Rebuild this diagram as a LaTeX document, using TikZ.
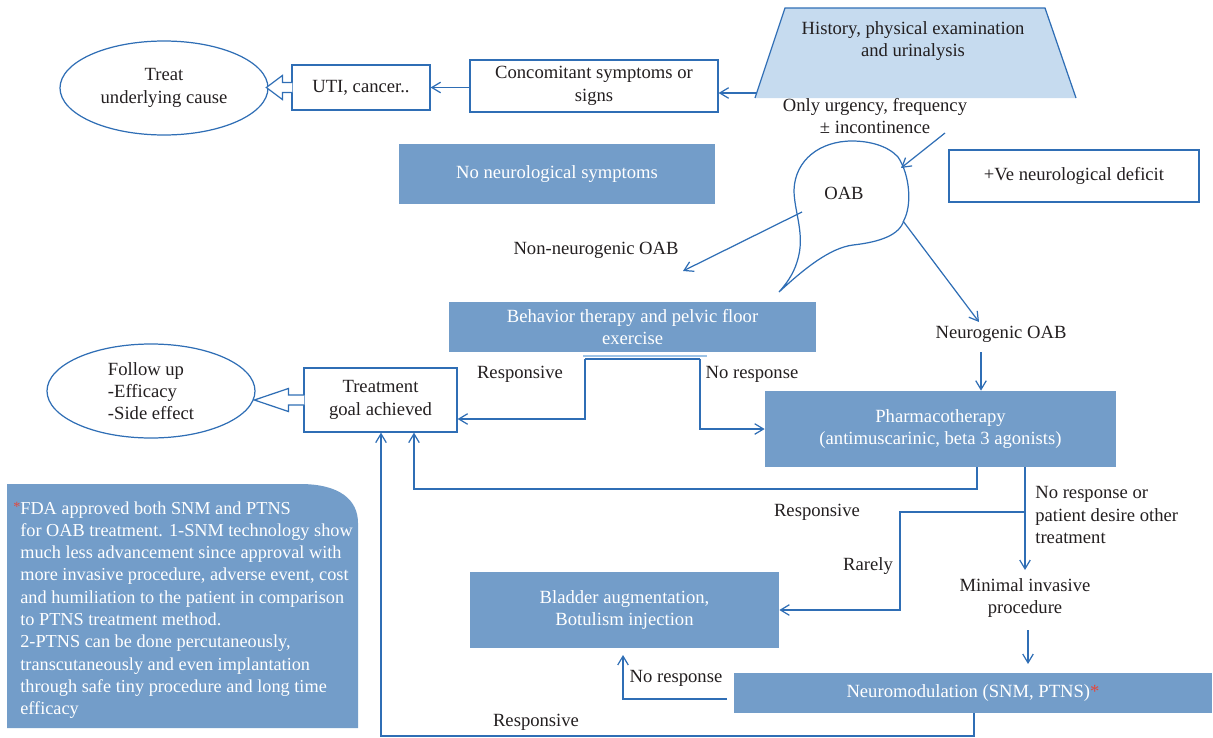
\documentclass[tikz,border=0pt]{standalone}
\usepackage{fontspec}
\setmainfont{Liberation Serif}
\usetikzlibrary{arrows.meta,shapes.geometric}
\definecolor{lineblue}{HTML}{2F6EB5}
\definecolor{boxblue}{HTML}{739DC9}
\definecolor{topblue}{HTML}{C6DBEF}
\definecolor{sepblue}{HTML}{9DC3E6}
\definecolor{inkgray}{HTML}{231F20}
\definecolor{starred}{HTML}{E5473C}
\tikzset{
	box/.style 2 args={draw=lineblue,line width=0.7pt,fill=white,minimum width=#1*0.02cm,minimum height=#2*0.02cm,inner sep=0pt,align=center,text=inkgray},
	fbox/.style 2 args={fill=boxblue,minimum width=#1*0.02cm,minimum height=#2*0.02cm,inner sep=0pt,align=center,text=white},
	oval/.style={ellipse,draw=lineblue,line width=0.7pt,minimum width=208*0.02cm,minimum height=94*0.02cm,inner sep=0pt,text=inkgray},
	lbl/.style={align=center,text=inkgray,inner sep=0pt},
	conn/.style={draw=lineblue,line width=0.7pt,-{Straight Barb[length=5pt,width=6pt]}},
	fat/.style={draw=lineblue,line width=0.7pt,fill=white}
}
\begin{document}
\begin{tikzpicture}[x=0.02cm,y=-0.02cm,font=\fontsize{10.6}{12.7}\selectfont]
	\useasboundingbox (0,0) rectangle (1213,737);

	\fill[topblue] (785,8) -- (1045,8) -- (1076,98) -- (755,98) -- cycle;
	\draw[lineblue,line width=0.7pt] (755,98) -- (785,8) -- (1045,8) -- (1076,98);
	\node[lbl] (hist) at (913,41) {History, physical examination\\and urinalysis};
	\node[box={248}{52}] (conc) at (594,86) {Concomitant symptoms or\\signs};
	\node[box={138}{45}] (uti) at (361,87.5) {UTI, cancer..};
	\node[oval,align=center] (cause) at (164,88) {Treat\\underlying cause};
	\node[fbox={316}{60}] (noneuro) at (557,174) {No neurological symptoms};
	\node[lbl] (only) at (875,116) {Only urgency, frequency\\± incontinence};
	\node[box={250}{52}] (plusve) at (1074,176) {+Ve neurological deficit};

	\draw[lineblue,line width=0.7pt] (852,141) .. controls (820,141) and (795,160) .. (794,190) .. controls (794,212) and (806,235) .. (797,262) .. controls (793,275) and (786,284) .. (779,292) .. controls (805,268) and (830,248) .. (853,245) .. controls (880,242) and (900,235) .. (904,220) .. controls (912,205) and (910,175) .. (898,157) .. controls (888,146) and (870,141) .. (852,141) -- cycle;
	\node[lbl] (oab) at (844,193) {OAB};
	\coordinate (onlyout) at (945,133);
	\coordinate (oabin) at (901,168);
	\coordinate (oabl) at (802,212);
	\coordinate (oabr) at (903,221);

	\node[lbl] (nonneuro) at (596,250) {Non-neurogenic OAB};
	\coordinate (nonneuroe) at (683,271);
	\node[lbl] (neurog) at (1001,334) {Neurogenic OAB};
	\coordinate (neurogn) at (979,322);
	\coordinate (ng) at (981,352);
	\node[fbox={367}{50}] (behav) at (632.5,327) {Behavior therapy and pelvic floor\\exercise};
	\node[fbox={351}{76}] (pharma) at (940.5,429) {Pharmacotherapy\\(antimuscarinic, beta 3 agonists)};
	\node[box={153}{64}] (tga) at (380.5,400) {Treatment\\goal achieved};
	\node[oval,align=left] (follow) at (151,391) {Follow up\\-Efficacy\\-Side effect};
	\node[lbl] (resp1) at (520,374) {Responsive};
	\node[lbl] (noresp1) at (752,374) {No response};

	\node[fbox={309}{76}] (bladder) at (624.5,610) {Bladder augmentation,\\Botulism injection};
	\node[fbox={478}{40}] (neuromod) at (973,693) {Neuromodulation (SNM, PTNS)\textcolor{starred}{*}};
	\node[lbl,align=left,anchor=west] (noresp2) at (1035,515) {No response or\\patient desire other\\treatment};
	\node[lbl] (resp2) at (817,512) {Responsive};
	\node[lbl] (rarely) at (868,566) {Rarely};
	\node[lbl] (minimal) at (1025,598) {Minimal invasive\\procedure};
	\node[lbl] (noresp3) at (676,678) {No response};
	\node[lbl] (resp3) at (536,722) {Responsive};

	\fill[boxblue] (7,728) -- (7,484) -- (300,484) .. controls (340,484) and (358,500) .. (358,523) -- (358,728) -- cycle;
	\node[lbl,text=white,align=left,anchor=north west,font=\fontsize{10.4}{12.7}\selectfont] (note) at (20,501) {\llap{\textcolor{starred}{\raisebox{1.5pt}{\footnotesize *}}}FDA approved both SNM and PTNS\\for OAB treatment. 1-SNM technology show\\much less advancement since approval with\\more invasive procedure, adverse event, cost\\and humiliation to the patient in comparison\\to PTNS treatment method.\\2-PTNS can be done percutaneously,\\transcutaneously and even implantation\\through safe tiny procedure and long time\\efficacy};

	\coordinate (histw) at (757,93);
	\coordinate (rs) at (585,359);
	\coordinate (nr) at (700,359);
	\coordinate (rsb) at (585,419);
	\coordinate (pb) at (977,489);
	\coordinate (tb) at (414,489);
	\coordinate (pd) at (1025,512);
	\coordinate (pd2) at (1025,570);
	\coordinate (rb) at (900,512);
	\coordinate (mp) at (1028,630);
	\coordinate (mp2) at (1028,664);
	\coordinate (nm) at (727,699);
	\coordinate (nmb) at (623,699);
	\coordinate (blb) at (623,655);
	\coordinate (nb) at (974,736);
	\coordinate (lb) at (381,736);

	\draw[conn] (histw) -- (histw -| conc.east);
	\draw[conn] (uti.east -| conc.west) -- (uti.east);
	\filldraw[fat] (uti.west) ++(1,-5) -- ++(-10,0) -- ++(0,-7) -- ++(-16,12) -- ++(16,12) -- ++(0,-7) -- ++(10,0);
	\filldraw[fat] (tga.west) ++(1,-5) -- ++(-16,0) -- ++(0,-6.5) -- ++(-34,11.5) -- ++(34,11.5) -- ++(0,-6.5) -- ++(16,0);
	\draw[conn] (onlyout) -- (oabin);
	\draw[conn] (oabl) -- (nonneuroe);
	\draw[conn] (oabr) -- (neurogn);
	\draw[conn] (ng) -- (ng |- pharma.north);
	\draw[sepblue,line width=0.7pt] (583,356) -- (707,356);
	\draw[lineblue,line width=0.7pt] (rs) -- (nr);
	\draw[conn] (rs) -- (rsb) -- (rsb -| tga.east);
	\draw[conn] (nr) |- (pharma.west);
	\draw[conn] (pb |- pharma.south) -- (pb) -- (tb) -- (tb |- tga.south);
	\draw[conn] (pd |- pharma.south) -- (pd2);
	\draw[conn] (pd) -- (rb) |- (bladder.east);
	\draw[conn] (mp) -- (mp2);
	\draw[conn] (nm) -- (nmb) -- (blb);
	\draw[conn] (nb |- neuromod.south) -- (nb) -- (lb) -- (lb |- tga.south);
\end{tikzpicture}
\end{document}
